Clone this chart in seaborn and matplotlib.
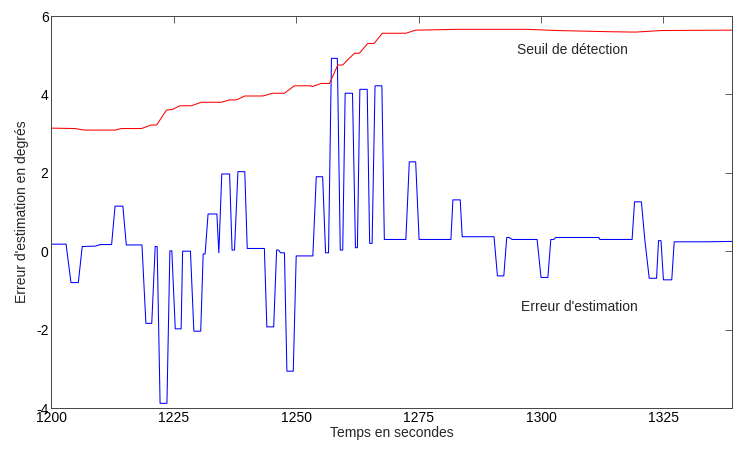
import numpy as np
import pandas as pd
import matplotlib
matplotlib.use('Agg')
import matplotlib.pyplot as plt
import seaborn as sns

# seuil de détection (rouge)
seuil_t = [1200, 1204.8, 1206.8, 1213, 1214.3, 1218.4, 1220.4, 1221.5, 1223.5, 1224.8,
           1226.2, 1228.6, 1230.6, 1234.7, 1236.4, 1237.8, 1239.5, 1243.2, 1245.2, 1247.6,
           1249.6, 1253.0, 1253.3, 1255.1, 1256.8, 1258.5, 1259.5, 1260.5, 1261.9, 1262.9,
           1264.6, 1265.9, 1267.6, 1272.4, 1274.4, 1282.9, 1297.2, 1303.3, 1313.8, 1319.3,
           1324.7, 1339]
seuil_v = [3.14, 3.13, 3.09, 3.09, 3.13, 3.13, 3.22, 3.22, 3.60, 3.62,
           3.71, 3.71, 3.80, 3.80, 3.86, 3.86, 3.96, 3.96, 4.03, 4.03,
           4.22, 4.22, 4.20, 4.28, 4.28, 4.75, 4.75, 4.88, 5.05, 5.05,
           5.30, 5.30, 5.56, 5.56, 5.64, 5.66, 5.66, 5.63, 5.60, 5.59,
           5.63, 5.64]

# erreur d'estimation (bleu)
err_t = [1200, 1203, 1204, 1205.5, 1206.3, 1209, 1210, 1212.3, 1213, 1214.6,
         1215.3, 1218.5, 1219.3, 1220.5, 1221.2, 1221.6, 1222.2, 1223.6, 1224.2, 1224.6,
         1225.3, 1226.5, 1226.8, 1228.4, 1229.1, 1230.5, 1231.0, 1231.4, 1232.0, 1233.8,
         1234.2, 1234.8, 1236.4, 1236.9, 1237.4, 1238.1, 1239.5, 1240.0, 1243.5, 1244.0,
         1245.4, 1246.0, 1246.4, 1246.8, 1247.6, 1248.1, 1249.4, 1250.0, 1253.4, 1254.1,
         1255.4, 1256.0, 1256.6, 1257.2, 1258.4, 1259.0, 1259.5, 1260.0, 1261.5, 1262.1,
         1262.5, 1263.0, 1264.5, 1265.0, 1265.5, 1266.1, 1267.5, 1268.0, 1272.4, 1273.1,
         1274.4, 1275.1, 1281.6, 1282.0, 1283.5, 1283.9, 1290.4, 1291.1, 1292.4, 1293.0,
         1293.5, 1294.1, 1299.2, 1300.0, 1301.4, 1302.0, 1302.6, 1303.0, 1311.8, 1312.0,
         1318.6, 1319.1, 1320.5, 1321.2, 1322.1, 1323.6, 1324.0, 1324.5, 1325.0, 1326.7,
         1327.2, 1333.9, 1339]
err_v = [0.18, 0.18, -0.80, -0.80, 0.12, 0.13, 0.17, 0.17, 1.15, 1.15,
         0.16, 0.16, -1.84, -1.84, 0.12, 0.12, -3.88, -3.88, 0.01, 0.01,
         -1.98, -1.98, 0.00, 0.00, -2.04, -2.04, -0.07, -0.07, 0.95, 0.95,
         -0.04, 1.97, 1.97, 0.03, 0.03, 2.03, 2.03, 0.07, 0.07, -1.93,
         -1.93, 0.03, 0.03, -0.04, -0.04, -3.06, -3.06, -0.12, -0.12, 1.90,
         1.90, -0.04, -0.04, 4.92, 4.92, 0.03, 0.03, 4.03, 4.03, 0.09,
         0.09, 4.13, 4.13, 0.20, 0.20, 4.22, 4.22, 0.30, 0.30, 2.28,
         2.28, 0.30, 0.30, 1.31, 1.31, 0.37, 0.37, -0.63, -0.63, 0.35,
         0.35, 0.30, 0.30, -0.67, -0.67, 0.30, 0.30, 0.35, 0.35, 0.30,
         0.30, 1.26, 1.26, 0.29, -0.69, -0.69, 0.27, 0.27, -0.73, -0.73,
         0.24, 0.24, 0.25]

x_ticks = [1200, 1225, 1250, 1275, 1300, 1325]
y_ticks = [-4, -2, 0, 2, 4, 6]

sns.set_theme(style='white')
plt.rcParams['font.family'] = ['Liberation Sans', 'DejaVu Sans']
plt.rcParams['font.size'] = 10
plt.rcParams['axes.unicode_minus'] = False

df_seuil = pd.DataFrame({'t': seuil_t, 'v': seuil_v})
df_err = pd.DataFrame({'t': err_t, 'v': err_v})

fig = plt.figure(figsize=(7.33, 4.5), dpi=100)
ax = fig.add_axes([0.0701, 0.0933, 0.9285, 0.8711])

sns.lineplot(data=df_err, x='t', y='v', ax=ax, color='#0000ff', lw=0.75, estimator=None)
sns.lineplot(data=df_seuil, x='t', y='v', ax=ax, color='#ff0000', lw=0.75, estimator=None)

ax.set_xlim(1200, 1339)
ax.set_ylim(-4, 6)
ax.set_xticks(x_ticks)
ax.set_yticks(y_ticks)
ax.tick_params(direction='in', length=5, width=0.6, color='#444444',
               top=True, right=True, labelsize=10, labelcolor='black', pad=2)
for s in ax.spines.values():
    s.set_color('#444444')
    s.set_linewidth(0.7)

ax.set_xlabel('Temps en secondes', fontsize=10, labelpad=1)
ax.set_ylabel("Erreur d'estimation en degrés", fontsize=10, labelpad=5)

ax.text(1295, 5.13, 'Seuil de détection', fontsize=10, ha='left', va='center')
ax.text(1296, -1.42, "Erreur d'estimation", fontsize=10, ha='left', va='center')

fig.savefig('out.png', dpi=100)
